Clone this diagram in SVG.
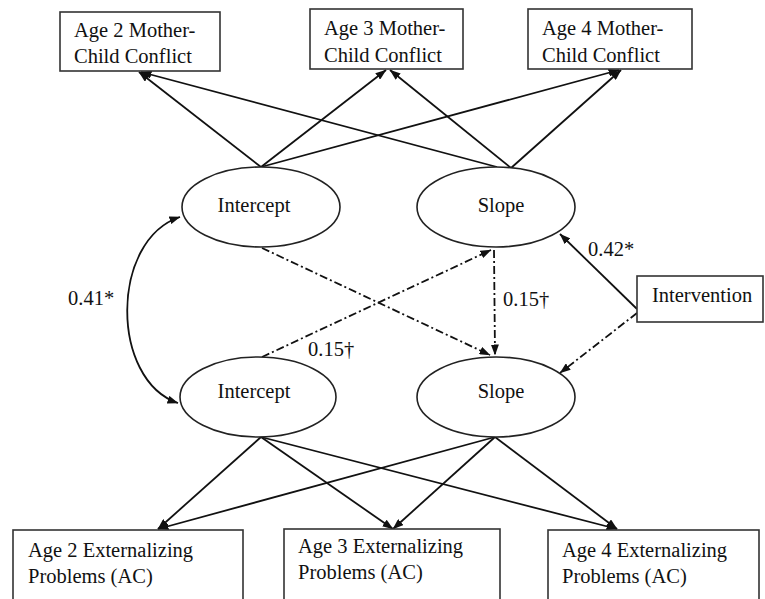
<svg xmlns="http://www.w3.org/2000/svg" width="765" height="599" viewBox="0 0 765 599">
<defs>
<marker id="ah" viewBox="0 0 11 8" refX="10.5" refY="4" markerWidth="11" markerHeight="8" markerUnits="userSpaceOnUse" orient="auto-start-reverse">
<path d="M0,0 L11,4 L0,8 z" fill="#111"/>
</marker>
</defs>
<style>
.box{fill:#fff;stroke:#333;stroke-width:1.6}
.ell{fill:#fff;stroke:#222;stroke-width:1.6}
.t{font-family:"Liberation Serif","Times New Roman",serif;font-size:20.5px;fill:#111}
.c{stroke:#111;stroke-width:1.8;fill:none}
.d{stroke:#111;stroke-width:1.8;fill:none;stroke-dasharray:8 3 2 3}
</style>
<rect width="765" height="599" fill="#fff"/>
<g id="connectors">
<line class="c" x1="261" y1="167" x2="139" y2="72" marker-end="url(#ah)"/>
<line class="c" x1="261" y1="167" x2="386" y2="70" marker-end="url(#ah)"/>
<line class="c" x1="261" y1="167" x2="619" y2="70" marker-end="url(#ah)"/>
<line class="c" x1="497" y1="167" x2="141" y2="72" marker-end="url(#ah)"/>
<line class="c" x1="511" y1="168" x2="390" y2="70" marker-end="url(#ah)"/>
<line class="c" x1="511" y1="168" x2="621" y2="70" marker-end="url(#ah)"/>
<line class="c" x1="261" y1="437" x2="158" y2="529" marker-end="url(#ah)"/>
<line class="c" x1="261" y1="437" x2="393" y2="529" marker-end="url(#ah)"/>
<line class="c" x1="261" y1="437" x2="617" y2="529" marker-end="url(#ah)"/>
<line class="c" x1="495" y1="437" x2="158" y2="529" marker-end="url(#ah)"/>
<line class="c" x1="495" y1="437" x2="393" y2="529" marker-end="url(#ah)"/>
<line class="c" x1="495" y1="437" x2="617" y2="529" marker-end="url(#ah)"/>
<path class="c" d="M180,217 C110,240 110,380 178,403" marker-start="url(#ah)" marker-end="url(#ah)"/>
<line class="d" x1="262" y1="248" x2="490" y2="355" marker-end="url(#ah)"/>
<line class="d" x1="262" y1="357" x2="491" y2="250" marker-end="url(#ah)"/>
<line class="d" x1="494" y1="250" x2="495" y2="355" marker-end="url(#ah)"/>
<line class="d" x1="637" y1="313" x2="560" y2="373" marker-end="url(#ah)"/>
<line class="c" x1="637" y1="309" x2="560" y2="234" marker-end="url(#ah)"/>
<text class="t" x="68" y="305">0.41*</text>
<text class="t" x="503" y="306">0.15†</text>
<text class="t" x="308" y="356">0.15†</text>
<text class="t" x="588" y="256">0.42*</text>
</g>
<g id="conflict2"><rect class="box" x="60" y="12" width="160" height="59"/><text class="t" x="74" y="37">Age 2 Mother-</text><text class="t" x="74" y="63">Child Conflict</text></g>
<g id="conflict3"><rect class="box" x="310" y="9" width="153" height="60"/><text class="t" x="324" y="35">Age 3 Mother-</text><text class="t" x="324" y="62">Child Conflict</text></g>
<g id="conflict4"><rect class="box" x="528" y="9" width="164" height="60"/><text class="t" x="542" y="35">Age 4 Mother-</text><text class="t" x="542" y="62">Child Conflict</text></g>
<g id="intercept1"><ellipse class="ell" cx="261" cy="207" rx="79" ry="40"/><text class="t" x="254" y="212" text-anchor="middle">Intercept</text></g>
<g id="slope1"><ellipse class="ell" cx="496" cy="207" rx="79" ry="40"/><text class="t" x="501" y="212" text-anchor="middle">Slope</text></g>
<g id="intercept2"><ellipse class="ell" cx="258" cy="397" rx="78" ry="40"/><text class="t" x="254" y="398" text-anchor="middle">Intercept</text></g>
<g id="slope2"><ellipse class="ell" cx="496" cy="397" rx="79" ry="40"/><text class="t" x="501" y="398" text-anchor="middle">Slope</text></g>
<g id="intervention"><rect class="box" x="637" y="276" width="126" height="46"/><text class="t" x="652" y="302">Intervention</text></g>
<g id="ext2"><rect class="box" x="13" y="530" width="230" height="80"/><text class="t" x="28" y="557">Age 2 Externalizing</text><text class="t" x="28" y="583">Problems (AC)</text></g>
<g id="ext3"><rect class="box" x="284" y="529" width="216" height="80"/><text class="t" x="298" y="553">Age 3 Externalizing</text><text class="t" x="298" y="579">Problems (AC)</text></g>
<g id="ext4"><rect class="box" x="548" y="530" width="211" height="80"/><text class="t" x="562" y="557">Age 4 Externalizing</text><text class="t" x="562" y="583">Problems (AC)</text></g>
</svg>
